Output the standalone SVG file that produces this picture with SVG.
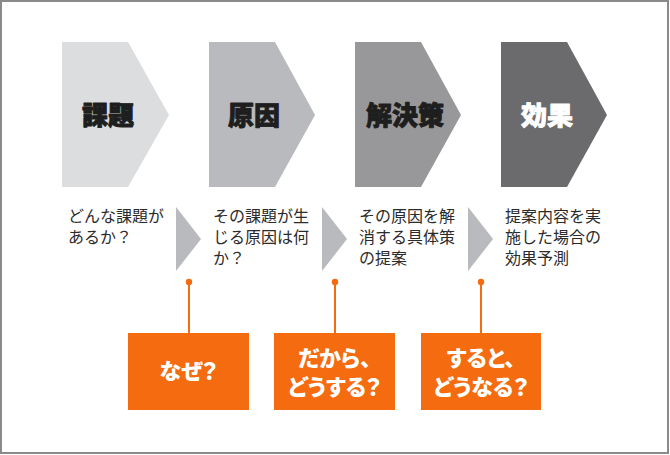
<svg xmlns="http://www.w3.org/2000/svg" width="670" height="455" viewBox="0 0 670 455">
<style>
.title{font-family:"Noto Sans CJK JP","Noto Sans",sans-serif;font-weight:900;font-size:26px;text-anchor:middle;font-feature-settings:"palt";stroke-width:0.9;stroke-linejoin:round}
.desc{font-family:"Noto Sans CJK JP","Noto Sans",sans-serif;font-size:16px;fill:#2b2b2b}
.box{fill:#f46b10}
.boxt{font-family:"Noto Sans CJK JP","Noto Sans",sans-serif;font-weight:900;font-size:22px;fill:#fff;text-anchor:middle;font-feature-settings:"palt"}
.tri{fill:#b9babd}
.con{stroke:#f46b10;stroke-width:2;fill:none}
.dot{fill:#f46b10}
</style>
<rect x="1" y="1" width="667" height="452" fill="#fff" stroke="#8a8a8a" stroke-width="2"/>
<g id="node-kadai">
<polygon points="62,42 128,42 169,115 128,187 62,187" fill="#dcdddf"/>
<text class="title" x="108" y="125" fill="#1e1e1e" stroke="#1e1e1e">課題</text>
</g>
<g id="node-genin">
<polygon points="209,42 275,42 315,115 275,187 209,187" fill="#b9babd"/>
<text class="title" x="254" y="125" fill="#1e1e1e" stroke="#1e1e1e">原因</text>
</g>
<g id="node-kaiketsu">
<polygon points="355,42 421,42 461,115 421,187 355,187" fill="#98989b"/>
<text class="title" x="405" y="125" fill="#1e1e1e" stroke="#1e1e1e">解決策</text>
</g>
<g id="node-kouka">
<polygon points="501,42 567,42 607,115 567,187 501,187" fill="#6b6b6e"/>
<text class="title" x="547" y="125" fill="#fff" stroke="#fff">効果</text>
</g>
<g id="desc-1">
<text class="desc" x="68" y="222">どんな課題が</text>
<text class="desc" x="68" y="243">あるか？</text>
</g>
<g id="desc-2">
<text class="desc" x="213" y="222">その課題が生</text>
<text class="desc" x="213" y="243">じる原因は何</text>
<text class="desc" x="213" y="264">か？</text>
</g>
<g id="desc-3">
<text class="desc" x="359" y="222">その原因を解</text>
<text class="desc" x="359" y="243">消する具体策</text>
<text class="desc" x="359" y="264">の提案</text>
</g>
<g id="desc-4">
<text class="desc" x="505" y="222">提案内容を実</text>
<text class="desc" x="505" y="243">施した場合の</text>
<text class="desc" x="505" y="264">効果予測</text>
</g>
<g id="arrows">
<polygon class="tri" points="176,207 201,239 176,271"/>
<polygon class="tri" points="322,207 347,239 322,271"/>
<polygon class="tri" points="468,207 493,239 468,271"/>
</g>
<g id="connectors">
<line class="con" x1="189" y1="282" x2="189" y2="333"/>
<circle class="dot" cx="189" cy="282" r="3.2"/>
<line class="con" x1="335" y1="282" x2="335" y2="333"/>
<circle class="dot" cx="335" cy="282" r="3.2"/>
<line class="con" x1="481" y1="282" x2="481" y2="333"/>
<circle class="dot" cx="481" cy="282" r="3.2"/>
</g>
<g id="box-naze">
<rect class="box" x="128" y="333" width="121" height="77"/>
<text class="boxt" x="188.5" y="379">なぜ？</text>
</g>
<g id="box-dakara">
<rect class="box" x="274" y="333" width="121" height="77"/>
<text class="boxt" x="334.5" y="366">だから、</text>
<text class="boxt" x="334.5" y="395">どうする？</text>
</g>
<g id="box-suruto">
<rect class="box" x="421" y="333" width="120" height="77"/>
<text class="boxt" x="481" y="366">すると、</text>
<text class="boxt" x="481" y="395">どうなる？</text>
</g>
</svg>
